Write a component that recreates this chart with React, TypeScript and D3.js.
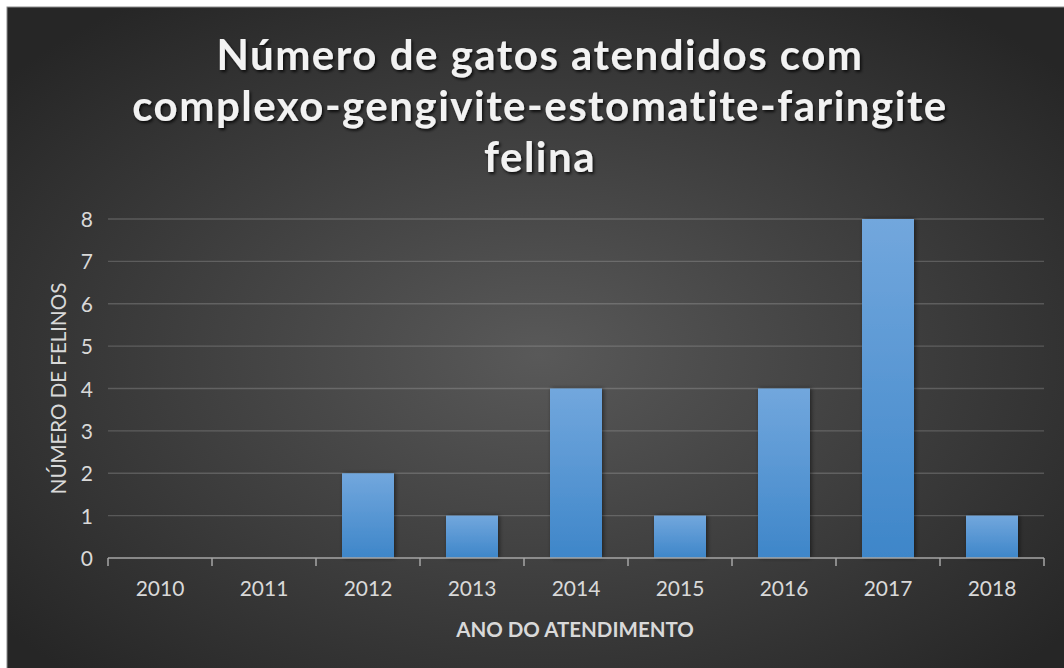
import React from "react";
import * as d3 from "d3";

const years = ["2010", "2011", "2012", "2013", "2014", "2015", "2016", "2017", "2018"];
const values = [0, 0, 2, 1, 4, 1, 4, 8, 1];
const yTicks = [0, 1, 2, 3, 4, 5, 6, 7, 8];
const titleLines = ["Número de gatos atendidos com", "complexo-gengivite-estomatite-faringite", "felina"];
const yTitle = "NÚMERO DE FELINOS";
const xTitle = "ANO DO ATENDIMENTO";

const W = 1064;
const H = 668;
const left = 108;
const right = 1044;
const top = 219;
const bottom = 558;
const FONT = "Lato, 'Open Sans', sans-serif";

export default function App() {
  const x = d3.scaleBand<string>().domain(years).range([left, right]).paddingInner(0.5).paddingOuter(0.25);
  const xb = d3.scaleBand<string>().domain(years).range([left, right]);
  const y = d3.scaleLinear().domain([0, 8]).range([bottom, top]);

  return (
    <svg width={W} height={H} style={{ position: "absolute", left: 0, top: 0 }}>
      <defs>
        <radialGradient id="bg" cx="50%" cy="52%" r="65%">
          <stop offset="0%" stopColor="#595959" />
          <stop offset="100%" stopColor="#262626" />
        </radialGradient>
        <linearGradient id="bar" x1="0" y1="0" x2="0" y2="1">
          <stop offset="0%" stopColor="#72a7dd" />
          <stop offset="100%" stopColor="#3e86c9" />
        </linearGradient>
        <filter id="tshadow" x="-10%" y="-30%" width="120%" height="160%">
          <feDropShadow dx="1.5" dy="2" stdDeviation="1.5" floodColor="#000" floodOpacity="0.8" />
        </filter>
        <filter id="bshadow" x="-20%" y="-10%" width="140%" height="120%">
          <feDropShadow dx="1.5" dy="0" stdDeviation="2" floodColor="#000" floodOpacity="0.5" />
        </filter>
      </defs>
      <rect x={0} y={0} width={W} height={H} fill="#fff" />
      <rect x={7} y={7} width={W} height={H} fill="url(#bg)" stroke="#8c8c8c" strokeWidth={1} />

      {titleLines.map((t, i) => (
        <text
          key={i}
          x={540}
          y={70 + i * 51}
          textAnchor="middle"
          fill="#f2f2f2"
          fontFamily={FONT}
          fontWeight="bold"
          fontSize={42}
          letterSpacing={1.5}
          filter="url(#tshadow)"
        >
          {t}
        </text>
      ))}

      {yTicks.map((v) => (
        <g key={v}>
          {v > 0 && <line x1={left} x2={right} y1={y(v)} y2={y(v)} stroke="#d9d9d9" strokeOpacity={0.22} strokeWidth={1.3} />}
          <text x={93} y={y(v) + 8} textAnchor="end" fill="#d9d9d9" fontFamily={FONT} fontSize={21}>
            {v}
          </text>
        </g>
      ))}

      {years.map((yr, i) => (
        <g key={yr}>
          {values[i] > 0 && (
            <rect
              x={x(yr)}
              y={y(values[i])}
              width={x.bandwidth()}
              height={y(0) - y(values[i])}
              fill="url(#bar)"
              filter="url(#bshadow)"
            />
          )}
          <text x={(xb(yr) as number) + xb.bandwidth() / 2} y={596} textAnchor="middle" fill="#d9d9d9" fontFamily={FONT} fontSize={21}>
            {yr}
          </text>
        </g>
      ))}

      <line x1={left} x2={right} y1={bottom} y2={bottom} stroke="#a6a6a6" strokeWidth={1.5} />
      {[...years.map((yr) => xb(yr) as number), right].map((tx, i) => (
        <line key={i} x1={tx} x2={tx} y1={bottom} y2={bottom + 8} stroke="#a6a6a6" strokeWidth={1.5} />
      ))}

      <text
        transform={`translate(66, ${(top + bottom) / 2}) rotate(-90)`}
        textAnchor="middle"
        fill="#d9d9d9"
        fontFamily={FONT}
        fontSize={20.5}
      >
        {yTitle}
      </text>
      <text x={575} y={637} textAnchor="middle" fill="#d9d9d9" fontFamily={FONT} fontWeight="bold" fontSize={20.5}>
        {xTitle}
      </text>
    </svg>
  );
}
